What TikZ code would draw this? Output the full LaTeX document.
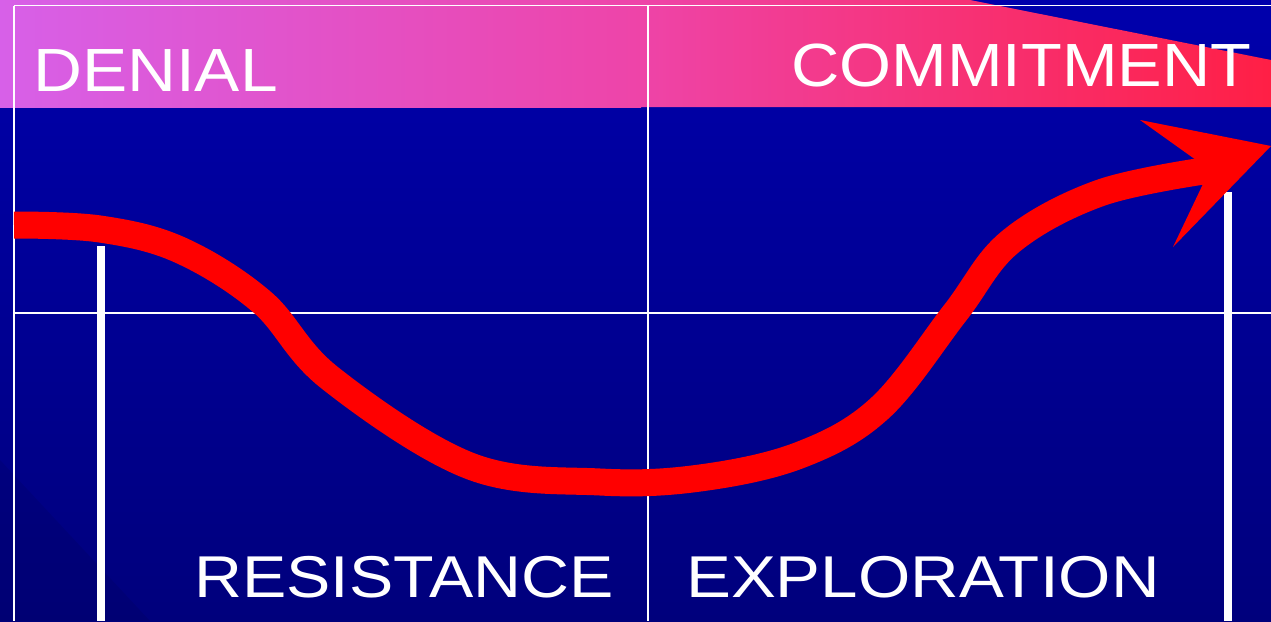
\documentclass[tikz,border=0pt]{standalone}
\usepackage{fontspec}
\usepackage{graphicx}
\setmainfont{Liberation Sans}
\definecolor{bgtop}{RGB}{0,0,172}
\definecolor{bgbot}{RGB}{0,0,124}
\definecolor{bandA}{RGB}{215,96,232}
\definecolor{bandB}{RGB}{226,82,204}
\definecolor{bandC}{RGB}{238,68,168}
\definecolor{bandD}{RGB}{249,50,110}
\definecolor{bandE}{RGB}{255,31,69}
\definecolor{arrowred}{RGB}{255,0,0}
\tikzset{
  gridline/.style={draw=white, line width=1.6pt},
  postline/.style={draw=white, line width=7.5pt},
  flow/.style={draw=arrowred, line width=27pt},
  toplabel/.style={text=white, inner sep=0pt, anchor=base west, font=\fontsize{61}{61}\selectfont},
  botlabel/.style={text=white, inner sep=0pt, anchor=base west, font=\fontsize{59}{59}\selectfont},
}
\newcommand{\widetext}[2]{\scalebox{#1}[1]{#2}}
\begin{document}
\begin{tikzpicture}[x=1pt, y=-1pt]
\useasboundingbox (0,0) rectangle (1271,621);
% background
\shade[top color=bgtop, bottom color=bgbot] (0,0) rectangle (1271,621);
\fill[black, opacity=0.07] (0,460) -- (150,621) -- (0,621) -- cycle;
% pink band
\shade[left color=bandA, middle color=bandB, right color=bandC] (0,0) rectangle (641,107);
\shade[left color=bandC, middle color=bandD, right color=bandE] (640,0) -- (970,0) -- (1271,60) -- (1271,107) -- (640,107) -- cycle;
% grid
\draw[gridline] (14,5.5) -- (1271,5.5);
\draw[gridline] (14,5.5) -- (14,621);
\draw[gridline] (648,5.5) -- (648,621);
\draw[gridline] (14,313) -- (1271,313);
\draw[postline] (101,246) -- (101,621);
\draw[postline] (1228,192) -- (1228,621);
% curve
\coordinate (cstart) at (14,225);
\coordinate (cend) at (1210,170);
\draw[flow] plot[smooth, tension=0.6] coordinates {(14,225) (100,229) (180,250) (262,302) (330,378) (470,466) (600,482) (700,478) (800,455) (880,408) (955,313) (1010,242) (1100,193) (1210,170)};
\fill[arrowred] (1140,120) -- (1271,146) -- (1173,247) -- (1203,184) -- (1196,160) -- cycle;
% labels
\node[toplabel] (denial) at (33,91) {\widetext{1.11}{DENIAL}};
\node[toplabel] (commit) at (791,86) {\widetext{1.095}{COMMITMENT}};
\node[botlabel] (resist) at (194,597) {\widetext{1.125}{RESISTANCE}};
\node[botlabel] (explor) at (686,597) {\widetext{1.14}{EXPLORATION}};
\end{tikzpicture}
\end{document}
